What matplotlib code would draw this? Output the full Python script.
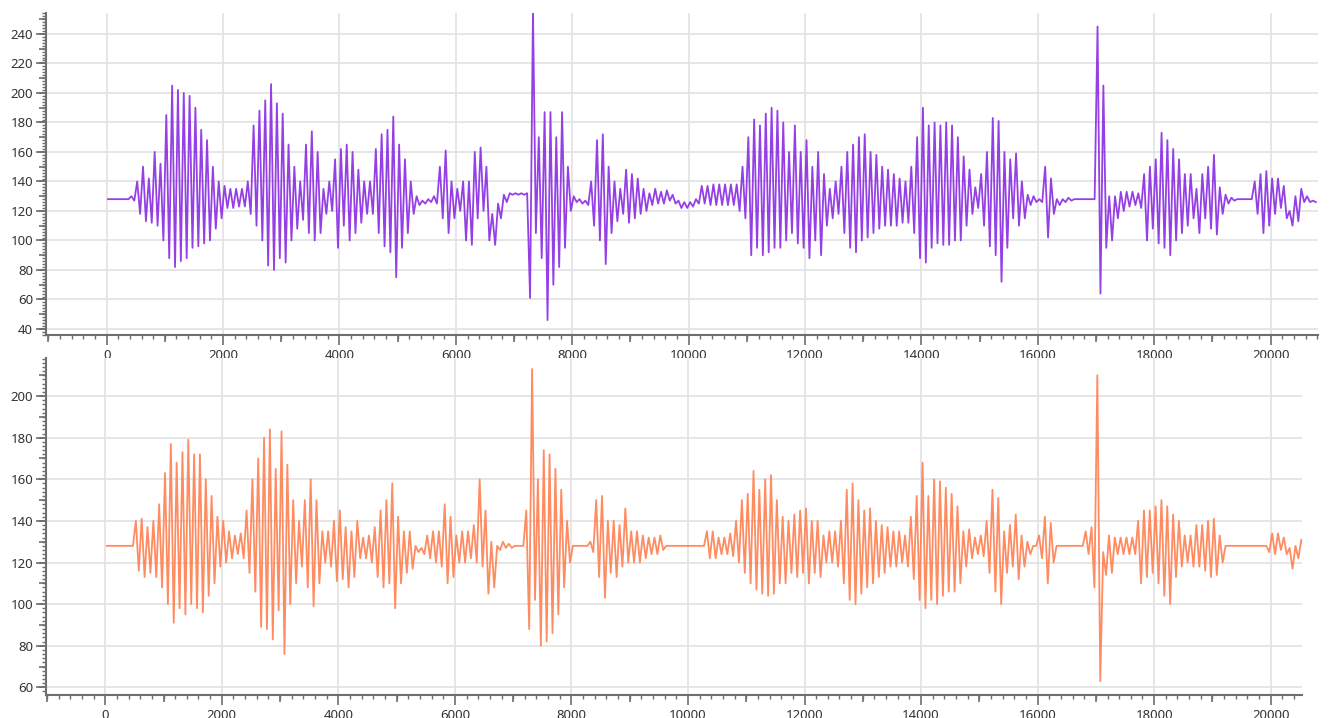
import numpy as np
import matplotlib
matplotlib.use("Agg")
import matplotlib.pyplot as plt
from matplotlib import markers
from matplotlib.ticker import MultipleLocator

# envelope of each waveform, one (high, low) pair per block of 100 samples
BIN = 100

top_hi = [
    128, 128, 128, 128, 130, 140, 150, 142, 160, 152,
    185, 205, 202, 200, 198, 190, 175, 168, 150, 140,
    137, 135, 135, 135, 140, 178, 188, 195, 206, 193,
    186, 165, 150, 140, 165, 174, 160, 135, 140, 155,
    162, 165, 160, 148, 140, 140, 162, 172, 175, 184,
    165, 155, 140, 130, 127, 128, 130, 150, 161, 140,
    135, 140, 140, 160, 163, 150, 118, 125, 131, 132,
    132, 132, 132, 256, 170, 187, 187, 170, 187, 150,
    130, 128, 127, 140, 168, 172, 150, 140, 135, 148,
    145, 142, 135, 132, 135, 133, 134, 131, 127, 126,
    126, 128, 137, 137, 138, 138, 138, 138, 138, 150,
    170, 182, 178, 186, 190, 188, 180, 160, 178, 160,
    168, 150, 160, 145, 135, 140, 150, 160, 165, 170,
    172, 160, 158, 150, 148, 145, 142, 140, 150, 170,
    190, 178, 180, 178, 180, 178, 170, 157, 148, 136,
    145, 160, 183, 181, 160, 155, 159, 140, 131, 130,
    128, 150, 142, 128, 128, 129, 128, 128, 128, 128,
    245, 205, 130, 130, 133, 133, 133, 132, 145, 150,
    155, 173, 168, 162, 155, 145, 145, 135, 145, 150,
    158, 136, 131, 129, 128, 128, 128, 140, 145, 147,
    142, 142, 137, 120, 130, 135, 130, 127,
]
top_lo = [
    128, 128, 128, 128, 127, 118, 113, 112, 110, 100,
    88, 82, 86, 88, 95, 96, 98, 100, 108, 115,
    122, 122, 123, 123, 118, 110, 100, 83, 80, 88,
    85, 100, 108, 114, 105, 100, 105, 118, 120, 95,
    110, 100, 105, 112, 118, 118, 105, 96, 92, 75,
    95, 105, 118, 124, 125, 126, 125, 115, 105, 115,
    120, 100, 97, 115, 120, 100, 97, 115, 126, 131,
    131, 131, 61, 105, 88, 46, 70, 82, 95, 120,
    126, 125, 124, 110, 100, 84, 105, 113, 118, 112,
    115, 118, 120, 124, 125, 125, 127, 125, 122, 122,
    123, 125, 125, 124, 124, 124, 124, 124, 120, 115,
    90, 95, 90, 92, 95, 95, 100, 105, 98, 95,
    88, 100, 90, 110, 115, 118, 105, 95, 92, 100,
    102, 105, 108, 110, 110, 110, 112, 112, 105, 88,
    85, 95, 98, 97, 97, 100, 100, 110, 118, 122,
    110, 96, 90, 72, 95, 115, 110, 115, 124, 126,
    126, 102, 118, 124, 126, 127, 128, 128, 128, 128,
    64, 95, 100, 115, 120, 123, 124, 122, 100, 108,
    98, 95, 90, 100, 105, 110, 115, 105, 115, 108,
    104, 118, 125, 127, 128, 128, 128, 118, 105, 110,
    118, 122, 115, 110, 113, 126, 126, 126,
]

bot_hi = [
    128, 128, 128, 128, 128, 140, 141, 137, 140, 148,
    163, 177, 168, 173, 179, 172, 172, 160, 152, 142,
    140, 135, 133, 134, 145, 160, 170, 180, 184, 165,
    183, 167, 150, 140, 150, 160, 150, 135, 135, 140,
    145, 137, 135, 140, 132, 133, 137, 145, 150, 158,
    142, 135, 135, 128, 127, 133, 135, 135, 148, 142,
    133, 135, 135, 138, 160, 145, 130, 128, 130, 129,
    128, 128, 145, 213, 160, 174, 172, 165, 155, 140,
    128, 128, 128, 130, 150, 152, 140, 140, 138, 146,
    135, 135, 133, 132, 132, 133, 128, 128, 128, 128,
    128, 128, 128, 135, 135, 132, 132, 134, 140, 150,
    153, 164, 155, 160, 162, 150, 142, 140, 143, 145,
    146, 140, 140, 133, 135, 135, 140, 155, 158, 150,
    145, 146, 140, 138, 137, 135, 135, 133, 142, 152,
    168, 152, 160, 159, 156, 153, 147, 135, 136, 132,
    133, 140, 155, 151, 135, 138, 143, 133, 130, 128,
    133, 142, 139, 128, 128, 128, 128, 128, 135, 137,
    210, 125, 133, 132, 132, 132, 132, 140, 145, 145,
    147, 150, 147, 143, 140, 133, 133, 138, 138, 140,
    141, 133, 128, 128, 128, 128, 128, 128, 128, 128,
    134, 134, 132, 127, 128, 131,
]
bot_lo = [
    128, 128, 128, 128, 128, 116, 113, 115, 113, 108,
    100, 91, 98, 95, 100, 98, 96, 104, 110, 118,
    120, 122, 124, 122, 115, 106, 89, 88, 83, 97,
    76, 100, 110, 118, 108, 99, 110, 120, 118, 111,
    112, 108, 113, 122, 122, 120, 113, 108, 110, 98,
    110, 115, 117, 125, 124, 122, 120, 118, 110, 113,
    120, 120, 122, 120, 118, 105, 108, 126, 127, 127,
    128, 128, 88, 102, 80, 82, 86, 95, 108, 120,
    128, 128, 128, 125, 113, 103, 115, 113, 118, 120,
    120, 120, 122, 124, 124, 126, 128, 128, 128, 128,
    128, 128, 128, 122, 122, 124, 124, 123, 120, 115,
    110, 107, 105, 104, 105, 110, 110, 115, 113, 115,
    110, 115, 113, 120, 120, 118, 110, 102, 100, 105,
    108, 110, 113, 115, 118, 118, 120, 118, 112, 102,
    98, 102, 100, 104, 106, 106, 110, 118, 122, 124,
    123, 115, 106, 100, 115, 118, 112, 118, 124, 128,
    122, 110, 120, 128, 128, 128, 128, 128, 124, 108,
    63, 114, 115, 124, 124, 124, 124, 110, 113, 115,
    110, 104, 100, 113, 118, 120, 118, 118, 116, 113,
    114, 120, 128, 128, 128, 128, 128, 128, 128, 125,
    124, 126, 124, 117, 122, 127,
]

TICK_COLOR = "#6e6e6e"
GRID_COLOR = "#e2e2e2"
LABEL_COLOR = "#333333"

plt.rcParams["font.family"] = ["Noto Sans", "DejaVu Sans"]

fig = plt.figure(figsize=(13.31, 7.18), dpi=100)
ax_top = fig.add_axes([0.0343, 0.5334, 0.9559, 0.4485])
ax_bot = fig.add_axes([0.0343, 0.0320, 0.9439, 0.4694])


def envelope_line(hi, lo):
    start = np.arange(len(hi)) * BIN
    xs = np.column_stack([start + BIN * 0.25, start + BIN * 0.75]).ravel()
    ys = np.column_stack([hi, lo]).ravel()
    return xs, ys


def style(ax, xlim, ylim, ymajor):
    ax.set_xlim(*xlim)
    ax.set_ylim(*ylim)
    ax.set_facecolor("white")
    for side in ("top", "right"):
        ax.spines[side].set_visible(False)
    for side in ("left", "bottom"):
        ax.spines[side].set_color(TICK_COLOR)
        ax.spines[side].set_linewidth(1.5)
    ax.xaxis.set_major_locator(MultipleLocator(2000))
    ax.xaxis.set_minor_locator(MultipleLocator(200))
    ax.yaxis.set_major_locator(MultipleLocator(ymajor))
    ax.yaxis.set_minor_locator(MultipleLocator(2))
    ax.tick_params(which="major", length=7, width=1.2, color=TICK_COLOR,
                   labelsize=9.5, labelcolor=LABEL_COLOR, pad=2)
    ax.tick_params(which="minor", length=3, width=1, color=TICK_COLOR)
    ax.tick_params(axis="x", which="major", pad=3)
    ax.grid(True, which="major", color=GRID_COLOR, linewidth=1.2, zorder=0)
    ax.set_axisbelow(True)
    # medium ticks at the odd thousands and every 10 units
    xm = np.arange(-1000, xlim[1], 2000)
    ax.plot(xm, np.zeros_like(xm), linestyle="none", marker=markers.TICKDOWN,
            markersize=5, markeredgewidth=1.2, color=TICK_COLOR,
            transform=ax.get_xaxis_transform(), clip_on=False)
    ym = np.arange(np.ceil(ylim[0] / 10) * 10, ylim[1], 10)
    ax.plot(np.zeros_like(ym), ym, linestyle="none", marker=markers.TICKLEFT,
            markersize=5, markeredgewidth=1.2, color=TICK_COLOR,
            transform=ax.get_yaxis_transform(), clip_on=False)


xs, ys = envelope_line(top_hi, top_lo)
ax_top.plot(xs, ys, color="#8a2be2", linewidth=1.3, alpha=0.9, zorder=3)
style(ax_top, (-1048, 20812), (35.9, 254.2), 20)

xs, ys = envelope_line(bot_hi, bot_lo)
ax_bot.plot(xs, ys, color="#ff7f50", linewidth=1.3, alpha=0.9, zorder=3)
style(ax_bot, (-1023, 20537), (56.3, 218.3), 20)

fig.savefig("out.png", dpi=100, facecolor="white")
